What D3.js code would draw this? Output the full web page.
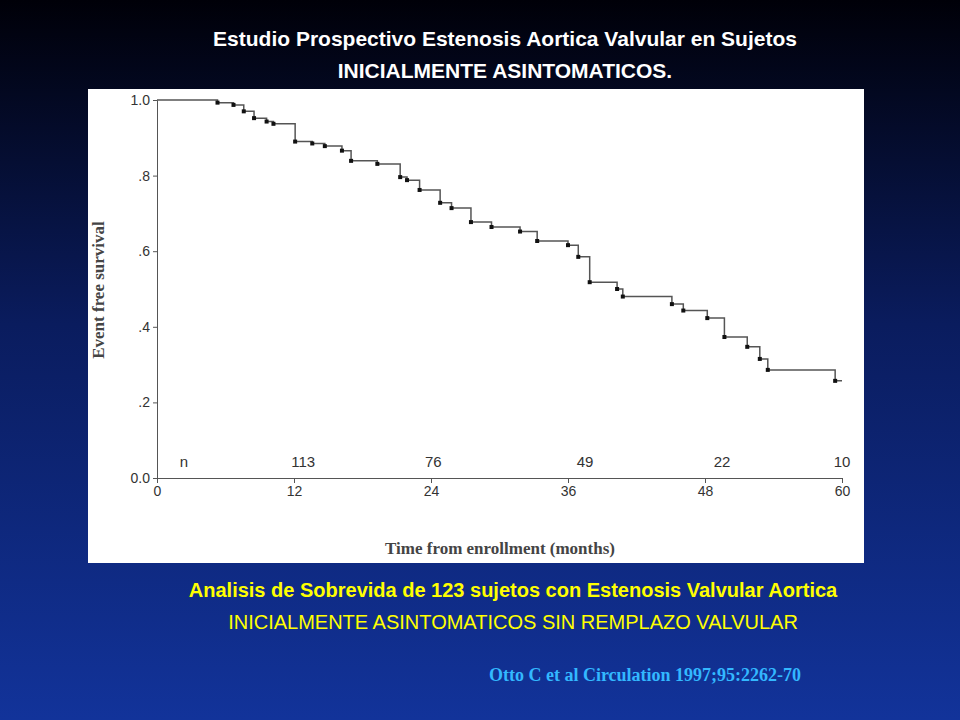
<!DOCTYPE html>
<html><head><meta charset="utf-8">
<script src="https://cdn.jsdelivr.net/npm/d3@7/dist/d3.min.js"></script>
<style>body{margin:0;background:#000}svg{display:block}</style>
</head><body>
<script>
// step points: time (months) and survival after the drop
var stepTimes = [0, 5.3, 6.7, 7.6, 8.5, 9.6, 10.2, 12.1, 13.6, 14.7, 16.2, 17, 19.3, 21.3, 21.9, 23, 24.8, 25.8, 27.5, 29.3,
                 31.8, 33.3, 36, 36.9, 37.9, 40.3, 40.8, 45.1, 46.1, 48.2, 49.7, 51.7, 52.8, 53.5, 59.4];
var stepSurv  = [1.0, 0.993, 0.987, 0.97, 0.952, 0.943, 0.937, 0.89, 0.885, 0.878, 0.866, 0.839, 0.831, 0.796, 0.788, 0.762, 0.728, 0.714, 0.677, 0.664,
                 0.652, 0.627, 0.616, 0.585, 0.518, 0.5, 0.48, 0.46, 0.443, 0.423, 0.373, 0.347, 0.315, 0.286, 0.257];
var xTicks = [0, 12, 24, 36, 48, 60];
var yTicks = [0, 0.2, 0.4, 0.6, 0.8, 1.0];
var yTickLabels = ["0.0", ".2", ".4", ".6", ".8", "1.0"];
var atRiskTimes = [2, 12.8, 24.2, 37.5, 49.5, 60];
var atRiskLabels = ["n", "113", "76", "49", "22", "10"];

var W = 960, H = 720;
var svg = d3.select('body').append('svg').attr('width', W).attr('height', H);
var grad = svg.append('defs').append('linearGradient').attr('id', 'bg')
    .attr('x1', 0).attr('y1', 0).attr('x2', 0).attr('y2', 1);
grad.append('stop').attr('offset', '0%').attr('stop-color', '#000008');
grad.append('stop').attr('offset', '45%').attr('stop-color', '#0a1c5e');
grad.append('stop').attr('offset', '100%').attr('stop-color', '#12339a');
svg.append('rect').attr('width', W).attr('height', H).attr('fill', 'url(#bg)');

svg.append('text').attr('x', 505).attr('y', 46).attr('text-anchor', 'middle')
    .attr('fill', '#fff').attr('font-family', 'Liberation Sans, Arial').attr('font-weight', 'bold').attr('font-size', 21)
    .text('Estudio Prospectivo Estenosis Aortica Valvular en Sujetos');
svg.append('text').attr('x', 505).attr('y', 78).attr('text-anchor', 'middle')
    .attr('fill', '#fff').attr('font-family', 'Liberation Sans, Arial').attr('font-weight', 'bold').attr('font-size', 21)
    .text('INICIALMENTE ASINTOMATICOS.');

svg.append('rect').attr('x', 88).attr('y', 89).attr('width', 776).attr('height', 474).attr('fill', '#fff');

var x = d3.scaleLinear().domain([0, 60]).range([157, 842]);
var y = d3.scaleLinear().domain([0, 1]).range([478, 100]);
var g = svg.append('g').attr('font-family', 'Liberation Sans, Arial').attr('fill', '#222');

g.append('g').attr('transform', 'translate(157,0)')
    .call(d3.axisLeft(y).tickValues(yTicks).tickSize(4).tickFormat(function (d, i) { return yTickLabels[i]; }))
    .call(function (a) {
        a.select('.domain').attr('stroke', '#555');
        a.selectAll('line').attr('stroke', '#555');
        a.selectAll('text').attr('font-size', 14).attr('fill', '#333').attr('font-family', 'Liberation Sans, Arial');
    });
g.append('g').attr('transform', 'translate(0,478)')
    .call(d3.axisBottom(x).tickValues(xTicks).tickSize(5).tickSizeOuter(0))
    .call(function (a) {
        a.select('.domain').attr('stroke', '#555');
        a.selectAll('line').attr('stroke', '#555');
        a.selectAll('text').attr('font-size', 14).attr('fill', '#333').attr('font-family', 'Liberation Sans, Arial');
    });

g.selectAll('text.nrisk').data(atRiskLabels).enter().append('text')
    .attr('class', 'nrisk')
    .attr('x', function (d, i) { return x(atRiskTimes[i]); }).attr('y', 467)
    .attr('text-anchor', function (d, i) { return i === 0 ? 'start' : 'middle'; })
    .attr('font-size', 15).attr('fill', '#333').text(function (d) { return d; });

var pts = stepTimes.map(function (t, i) { return [t, stepSurv[i]]; });
pts.push([60, stepSurv[stepSurv.length - 1]]);
var line = d3.line().x(function (d) { return x(d[0]); }).y(function (d) { return y(d[1]); }).curve(d3.curveStepAfter);
g.append('path').datum(pts).attr('fill', 'none').attr('stroke', '#555').attr('stroke-width', 1.5).attr('d', line);
g.selectAll('rect.mark').data(pts.slice(1, -1)).enter().append('rect')
    .attr('x', function (d) { return x(d[0]) - 2; }).attr('y', function (d) { return y(d[1]) - 2; })
    .attr('width', 4).attr('height', 4).attr('fill', '#111');

svg.append('text').attr('transform', 'translate(104,290) rotate(-90)').attr('text-anchor', 'middle')
    .attr('font-family', 'Liberation Serif, Times New Roman').attr('font-weight', 'bold').attr('font-size', 17).attr('fill', '#444')
    .text('Event free survival');
svg.append('text').attr('x', 500).attr('y', 554).attr('text-anchor', 'middle')
    .attr('font-family', 'Liberation Serif, Times New Roman').attr('font-weight', 'bold').attr('font-size', 17).attr('fill', '#444')
    .text('Time from enrollment (months)');

svg.append('text').attr('x', 513).attr('y', 597).attr('text-anchor', 'middle')
    .attr('fill', '#ffff00').attr('font-family', 'Liberation Sans, Arial').attr('font-weight', 'bold').attr('font-size', 20)
    .text('Analisis de Sobrevida de 123 sujetos con Estenosis Valvular Aortica');
svg.append('text').attr('x', 513).attr('y', 629).attr('text-anchor', 'middle')
    .attr('fill', '#ffff00').attr('font-family', 'Liberation Sans, Arial').attr('font-size', 20)
    .text('INICIALMENTE ASINTOMATICOS  SIN REMPLAZO VALVULAR');
svg.append('text').attr('x', 645).attr('y', 681).attr('text-anchor', 'middle')
    .attr('fill', '#33b8ff').attr('font-family', 'Liberation Serif, Times New Roman').attr('font-weight', 'bold').attr('font-size', 18)
    .text('Otto C et al Circulation 1997;95:2262-70');
</script>
</body></html>
